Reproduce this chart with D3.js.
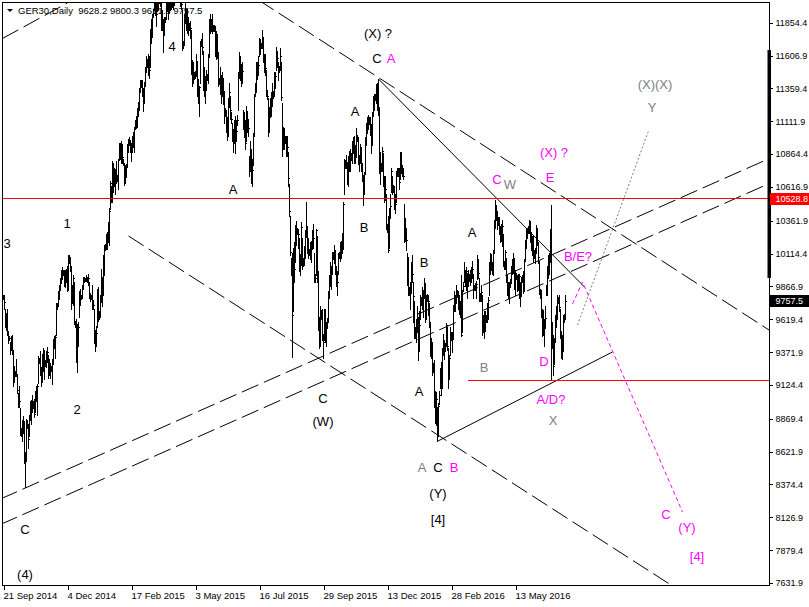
<!DOCTYPE html>
<html>
<head>
<meta charset="utf-8">
<script src="https://cdn.jsdelivr.net/npm/d3@7"></script>
<style>
  html, body { margin: 0; padding: 0; background: #fff; }
  svg { display: block; }
  text { font-family: "Liberation Sans", Arial, sans-serif; }
</style>
</head>
<body>
<svg id="chart" width="809" height="607"></svg>
<script>
// GER30 daily bars, 21 Sep 2014 .. 11 Jul 2016 (Sun-Fri sessions), one row per week
const lows = [
  9770,9700,9560,9540,9500,9440,
  9460,9360,9390,9360,9120,9150,
  9190,9190,9060,8960,8960,8750,
  8740,8700,8760,8540,8355,8550,
  8800,8650,8740,8860,8830,8920,
  8950,8880,8920,9000,8900,9140,
  9290,9200,9120,9150,9230,9170,
  9270,9260,9300,9180,9200,9180,
  9230,9130,9280,9400,9330,9500,
  9700,9720,9770,9840,9890,9920,
  9950,9870,9860,9900,9830,9840,
  10040,9980,9700,9740,9730,9580,
  9560,9300,9219,9420,9640,9730,
  9770,9790,9850,9900,9910,9910,
  9900,9880,9780,9760,9770,9700,
  9700,9440,9382,9420,9560,9610,
  9620,9640,9750,9720,9800,9950,
  10140,10150,10150,10200,10180,10450,
  10500,10500,10580,10620,10560,10650,
  10660,10600,10820,10830,10800,10800,
  10780,10630,10650,10690,10770,10880,
  10930,10880,10810,10880,10920,10880,
  11050,11060,11070,11150,11200,11330,
  11370,11300,11190,11250,11380,11480,
  11520,11460,11440,11520,11700,11750,
  11900,11950,11910,11830,11940,11950,
  12000,11980,11800,11800,11630,11760,
  11860,11890,11940,11880,11930,11950,
  11960,11970,11960,11990,12040,12160,
  12340,12280,12130,11980,11960,11650,
  11660,11690,11850,11800,11780,11760,
  11800,11740,11470,11380,11400,11430,
  11440,11450,11300,11250,11150,11400,
  11680,11620,11350,11300,11250,11350,
  11420,11400,11600,11780,11790,11780,
  11790,11790,11600,11580,11590,11380,
  11390,11320,11250,11300,11240,11100,
  11150,11030,10970,11000,11220,11130,
  11100,10960,10880,10950,10870,10960,
  11080,11200,11440,11420,11380,11400,
  11050,10990,10900,10960,11030,11000,
  10700,10740,10650,10620,10780,11000,
  11300,11330,11430,11460,11600,11620,
  11660,11660,11560,11480,11460,11300,
  11280,11000,11030,11140,11150,11230,
  11290,11300,11360,11500,11520,11420,
  11480,11500,11270,10850,10900,10900,
  10950,10850,10850,10620,10400,10100,
  9950,9338,9680,9900,10050,10180,
  10260,10160,9980,9950,10030,10000,
  10020,10030,10080,10240,10120,10080,
  10100,10070,10050,10150,10160,9900,
  9900,9950,9900,9540,9400,9420,
  9620,9460,9325,9460,9450,9420,
  9560,9600,9780,9870,9850,9960,
  10070,10040,9960,9870,9800,9960,
  10080,10060,10080,10120,10150,10560,
  10760,10760,10640,10620,10740,10740,
  10820,10800,10870,10800,10800,10840,
  10960,10790,10740,10800,10740,10660,
  10480,10560,10720,10930,11020,11050,
  11090,11010,10870,10940,11150,11200,
  11270,11250,11200,11160,10720,10640,
  10740,10740,10620,10500,10520,10300,
  10280,10130,10160,10380,10580,10560,
  10580,10450,10420,10500,10700,
  10700,10600,10680,10720,10700,
  10680,10200,10210,10140,9880,9800,
  9800,9700,9820,9900,9600,9480,
  9480,9450,9520,9314,9380,9620,
  9730,9700,9640,9780,9600,9620,
  9760,9650,9560,9340,9330,9200,
  9220,8960,8840,8820,8700,8740,
  8980,9100,9050,9100,9350,9320,
  9380,9420,9390,9100,9180,9350,
  9460,9370,9470,9680,9680,9740,
  9790,9700,9660,9640,9490,9520,
  9830,9900,9870,9840,9780,9870,
  9910,9880,9900,9930,9780,
  9840,9840,9780,9920,9930,9760,
  9760,9760,9500,9520,9480,9530,
  9600,9600,9620,9800,9960,9990,
  9960,9950,10130,10310,10370,10300,
  10330,10260,10200,10210,10170,10020,
  10000,10000,9900,9800,9780,9740,
  9860,9900,9960,9970,9850,9800,
  9920,9830,9840,9780,9720,9800,
  9900,9820,9830,10060,10160,10230,
  10270,10270,10200,10140,10100,10050,
  10080,10040,10120,10180,10040,9810,
  9780,9640,9490,9500,9420,9560,
  9800,9800,9930,9960,10050,9160,
  9400,9200,9280,9450,9560,9620,
  9740,9680,9480,9330,9320,9380,
  9600,9621.3
];

const highs = [
  9800,9800,9700,9670,9700,9530,
  9490,9450,9490,9500,9390,9270,
  9230,9320,9200,9060,9120,8950,
  8800,8860,8890,8850,8620,8870,
  8860,8820,8900,9000,9010,9050,
  9000,9020,9080,9120,9130,9340,
  9330,9380,9260,9360,9400,9390,
  9310,9380,9410,9350,9320,9290,
  9270,9320,9470,9490,9500,9740,
  9740,9830,9880,9930,9990,10010,
  9990,9990,9990,10000,10020,10100,
  10100,10090,10020,9880,9950,9900,
  9610,9620,9580,9600,9830,9850,
  9800,9880,9940,9940,9930,9950,
  9940,9960,9900,9820,9800,9880,
  9760,9700,9540,9570,9850,9860,
  9680,9800,10000,9940,10100,10180,
  10190,10260,10280,10350,10460,10660,
  10620,10810,10800,10760,10750,10810,
  10710,10830,10950,10950,10960,10940,
  10830,10790,10780,10790,10940,10980,
  10990,10970,10950,11000,11030,11070,
  11120,11150,11210,11260,11360,11420,
  11420,11420,11360,11410,11520,11600,
  11580,11620,11600,11810,11880,11920,
  11960,12220,12170,12040,12100,12060,
  12060,12140,12080,11950,11880,11900,
  11900,12100,12090,12050,12030,12000,
  12000,12020,12140,12110,12180,12390,
  12390,12380,12330,12220,12160,11950,
  11720,11920,12020,11960,11960,11900,
  11850,11870,11800,11570,11560,11480,
  11490,11620,11560,11430,11380,11720,
  11730,11780,11640,11520,11450,11500,
  11470,11620,11880,11920,11880,11920,
  11840,11840,11830,11790,11760,11630,
  11440,11520,11460,11480,11440,11330,
  11210,11200,11140,11290,11400,11300,
  11180,11100,11050,11120,11150,11120,
  11160,11480,11630,11600,11540,11560,
  11200,11180,11120,11230,11190,11130,
  10850,10960,10900,10830,11020,11320,
  11400,11560,11560,11600,11740,11730,
  11700,11800,11750,11620,11620,11500,
  11340,11290,11220,11290,11330,11400,
  11340,11480,11480,11670,11640,11560,
  11530,11660,11560,11250,11070,11060,
  11000,11000,11000,10880,10640,10400,
  10080,10120,10160,10200,10330,10360,
  10310,10300,10230,10110,10350,10230,
  10080,10170,10290,10500,10320,10230,
  10150,10200,10210,10290,10340,10120,
  9960,10300,10250,9980,9640,9720,
  9680,9700,9510,9700,9700,9600,
  9630,9830,9950,10050,10020,10130,
  10130,10180,10140,10020,9980,10120,
  10130,10200,10210,10270,10500,10830,
  10820,10860,10800,10850,10890,10900,
  10870,10960,10990,11000,10930,11060,
  11010,10990,10860,10940,10920,10800,
  10700,10730,10990,11100,11140,11160,
  11140,11140,11080,11180,11300,11320,
  11320,11390,11400,11430,11220,10880,
  10800,10920,10870,10700,10700,10560,
  10340,10400,10460,10560,10760,10700,
  10630,10620,10560,10740,10760,
  10760,10760,10880,10880,10780,
  10760,10490,10380,10300,10120,10090,
  9860,9900,10050,10100,9900,9760,
  9560,9620,9720,9640,9680,9800,
  9790,9860,9840,9930,9890,9800,
  9810,9800,9740,9600,9480,9450,
  9290,9310,9080,9070,8960,8990,
  9080,9250,9300,9400,9510,9460,
  9440,9590,9560,9400,9350,9560,
  9520,9520,9730,9830,9800,9880,
  9840,9830,9800,9760,9950,9840,
  9900,10050,9990,10010,9970,9990,
  9960,9990,10010,10060,9960,
  9880,9890,9910,10100,10070,9930,
  9820,9880,9800,9650,9680,9680,
  9650,9740,9790,10050,10120,10110,
  10040,10140,10370,10520,10480,10430,
  10390,10390,10320,10340,10370,10260,
  10060,10140,10080,9950,9900,9900,
  9920,10020,10070,10120,10080,9990,
  9970,9950,9960,9960,9900,9940,
  9950,9980,10070,10220,10300,10310,
  10320,10370,10360,10280,10250,10250,
  10140,10160,10330,10310,10200,10060,
  9850,9840,9700,9690,9620,9720,
  9880,10020,10100,10120,10300,10480,
  9600,9500,9480,9650,9720,9800,
  9790,9800,9700,9530,9500,9650,
  9660,9800.3
];

const closes = [
  9785,9749,9595,9661,9510,9490,
  9475,9422,9474,9382,9195,9209,
  9215,9210,9087,9005,9006,8788,
  8770,8812,8825,8572,8582,8850,
  8830,8717,8887,8940,8987,8988,
  8980,8902,9068,9083,9114,9326,
  9310,9235,9166,9315,9377,9291,
  9290,9351,9369,9210,9248,9252,
  9250,9306,9456,9472,9483,9732,
  9720,9785,9861,9915,9974,9980,
  9970,9963,9934,9971,9851,10087,
  10070,10014,9799,9799,9927,9594,
  9580,9334,9564,9563,9811,9787,
  9780,9865,9922,9920,9920,9930,
  9920,9928,9806,9790,9785,9765,
  9730,9473,9469,9518,9837,9648,
  9650,9781,9941,9817,10032,10167,
  10170,10242,10257,10299,10435,10649,
  10560,10798,10628,10710,10738,10694,
  10690,10828,10891,10911,10905,10846,
  10800,10664,10752,10766,10919,10963,
  10960,10924,10895,10962,11001,11050,
  11090,11131,11206,11210,11352,11401,
  11400,11356,11280,11390,11504,11550,
  11560,11582,11500,11806,11799,11901,
  11930,12168,11980,11922,12010,12039,
  12030,12040,11896,11843,11865,11868,
  11880,12086,11966,11998,11967,11980,
  11980,11995,12123,12036,12166,12375,
  12360,12338,12227,12039,11998,11688,
  11690,11892,11910,11939,11867,11811,
  11820,11811,11519,11442,11454,11454,
  11460,11568,11327,11350,11367,11709,
  11700,11674,11472,11351,11401,11447,
  11440,11594,11853,11849,11864,11815,
  11810,11815,11625,11771,11624,11413,
  11420,11436,11328,11419,11340,11197,
  11180,11064,11001,11265,11332,11196,
  11130,10984,10979,11101,11040,11040,
  11120,11460,11542,11471,11473,11492,
  11100,11083,10945,11180,11099,11058,
  10780,10890,10677,10747,10997,11316,
  11350,11484,11516,11539,11716,11673,
  11680,11734,11604,11520,11512,11347,
  11300,11056,11198,11211,11257,11308,
  11310,11444,11456,11636,11585,11490,
  11500,11604,11293,10925,10985,10985,
  10970,10940,10915,10682,10432,10124,
  10010,9648,10128,9997,10315,10298,
  10280,10259,10015,10048,10317,10038,
  10050,10108,10271,10303,10210,10123,
  10120,10131,10188,10227,10229,9916,
  9930,10292,9948,9570,9428,9688,
  9650,9483,9450,9660,9509,9553,
  9600,9814,9902,9994,9970,10096,
  10100,10119,9993,9916,9900,10104,
  10100,10165,10147,10238,10491,10795,
  10790,10801,10692,10832,10800,10850,
  10840,10950,10951,10845,10887,10988,
  10980,10815,10833,10907,10782,10708,
  10600,10713,10971,11085,11085,11119,
  11110,11092,10933,11170,11285,11293,
  11300,11382,11261,11190,10789,10752,
  10770,10886,10673,10592,10598,10340,
  10310,10139,10451,10470,10738,10608,
  10600,10497,10488,10727,10730,
  10730,10653,10860,10743,10740,
  10700,10283,10310,10214,9979,9849,
  9830,9825,9985,9960,9795,9545,
  9510,9521,9664,9392,9574,9765,
  9760,9736,9823,9881,9639,9798,
  9780,9757,9581,9434,9393,9286,
  9250,8979,8879,9017,8752,8967,
  9050,9207,9135,9377,9464,9388,
  9420,9573,9416,9167,9331,9513,
  9490,9495,9717,9776,9751,9824,
  9810,9778,9692,9723,9498,9831,
  9870,9990,9933,9983,9893,9950,
  9940,9948,9990,9999,9851,
  9860,9860,9888,10046,9966,9794,
  9790,9822,9563,9624,9530,9622,
  9620,9682,9761,10027,10093,10051,
  10000,10120,10350,10421,10435,10373,
  10360,10294,10260,10299,10321,10039,
  10030,10123,9926,9829,9851,9870,
  9890,9980,10045,10035,9862,9952,
  9940,9890,9891,9943,9796,9917,
  9920,9842,10057,10205,10272,10287,
  10300,10333,10263,10204,10208,10103,
  10110,10121,10288,10217,10089,9834,
  9800,9657,9519,9606,9550,9631,
  9840,9962,10015,10071,10257,9557,
  9480,9268,9447,9612,9680,9776,
  9760,9709,9532,9373,9418,9629,
  9628,9757.5
];

const symbolName = "GER30,Daily";
const lastOpen = 9628.2;

// time axis: bar index of each label and its text
const dateTicks = [0, 64, 128, 192, 256, 320, 384, 448, 512];
const dateLabels = ["21 Sep 2014", "4 Dec 2014", "17 Feb 2015", "3 May 2015", "16 Jul 2015",
                    "29 Sep 2015", "13 Dec 2015", "28 Feb 2016", "13 May 2016"];

// price axis labels
const priceTicks = [11854.4, 11606.9, 11359.4, 11111.9, 10864.4, 10616.9, 10361.9, 10114.4, 9866.9,
                    9619.4, 9371.9, 9124.4, 8869.4, 8621.9, 8374.4, 8126.9, 7879.4, 7631.9];

// horizontal levels
const resistanceLevel = 10528.8;
const supportLevel = 9160;
const supportStart = 465;

// price range marker on the scale
const scaleRange = [11648.8, 9930.5];

// trend lines as [barIndex, price] points
const dashedLines = [
  [[-1, 11735.5], [64, 12003]],
  [[255, 12025.6], [767, 9531.1]],
  [[125, 10247.0], [669, 7609.3]],
  [[-3, 8265.0], [767, 10834.9]],
  [[-3, 8073.0], [767, 10646.5]]
];
const solidLines = [
  [[375, 11430], [581, 9862.7]],
  [[434, 8700], [609, 9372.8]]
];
const magentaPath = [[569, 9734.6], [579, 9900.4], [679, 8167.0]];
const grayPath = [[574, 9576.3], [645, 11038.4]];

// wave labels: [barIndex, price, text]
const blackLabels = [
  [169, 11679, "4"], [230, 10601, "A"], [64, 10345, "1"], [4, 10194, "3"],
  [74, 8943, "2"], [22, 8040, "C"], [22, 7700, "(4)"],
  [375, 11777, "(X) ?"], [374, 11589, "C"], [352, 11189, "A"], [361, 10315, "B"],
  [320, 9026, "C"], [320, 8853, "(W)"], [421, 10051, "B"], [416, 9079, "A"],
  [435, 8506, "C"], [435, 8310, "(Y)"], [435, 8114, "[4]"], [469, 10277, "A"]
];
const magentaLabels = [
  [388, 11589, "A"], [451, 8506, "B"], [494, 10677, "C"], [547, 10692, "E"],
  [551, 10880, "(X) ?"], [575, 10096, "B/E?"], [541, 9305, "D"], [548, 9019, "A/D?"],
  [663, 8152, "C"], [684, 8054, "(Y)"], [694, 7835, "[4]"]
];
const grayLabels = [
  [419, 8506, "A"], [481, 9260, "B"], [507, 10639, "W"], [550, 8860, "X"],
  [652, 11393, "(X)(X)"], [649, 11219, "Y"]
];

// ---------------------------------------------------------------------------
const W = 809, H = 607;
const plot = { left: 2.5, top: 2.5, right: 769.5, bottom: 585.5 };
const MAGENTA = "#ff00ff", GRAY = "#808080", RED = "#ff0000";

const x = d3.scaleLinear().domain([0, 766]).range([3, 769]);
const y = d3.scaleLinear().domain([7631.9, 11854.4]).range([583, 22.7]);

const svg = d3.select("#chart");
svg.append("rect").attr("width", W).attr("height", H).attr("fill", "#fff");

svg.append("defs").append("clipPath").attr("id", "plotClip")
  .append("rect").attr("x", 3).attr("y", 3).attr("width", 766).attr("height", 582);

const area = svg.append("g").attr("clip-path", "url(#plotClip)");

// header (drawn first, bars cover it)
const n = Math.min(lows.length, highs.length, closes.length);
const last = n - 1;
area.append("path").attr("d", "M7,9L13,9L10,12Z").attr("fill", "#000");
area.append("text").attr("x", 18).attr("y", 14).attr("font-size", 9.5).attr("fill", "#000")
  .style("white-space", "pre")
  .text(`${symbolName}  ${lastOpen.toFixed(1)} ${highs[last].toFixed(1)} ${lows[last].toFixed(1)} ${closes[last].toFixed(1)}`);

const line = d3.line().x(d => x(d[0]) + 0.5).y(d => y(d[1]));

area.selectAll("path.dash").data(dashedLines).join("path")
  .attr("class", "dash").attr("d", line)
  .attr("fill", "none").attr("stroke", "#000").attr("stroke-width", 1)
  .attr("stroke-dasharray", "18,6");

area.selectAll("path.solid").data(solidLines).join("path")
  .attr("class", "solid").attr("d", line)
  .attr("fill", "none").attr("stroke", "#000").attr("stroke-width", 1);

area.append("path").attr("d", line(magentaPath))
  .attr("fill", "none").attr("stroke", MAGENTA).attr("stroke-width", 1)
  .attr("stroke-dasharray", "4,3");
area.append("path").attr("d", line(grayPath))
  .attr("fill", "none").attr("stroke", GRAY).attr("stroke-width", 1)
  .attr("stroke-dasharray", "2,2");

// OHLC bars: high-low stroke with a close tick
let barPath = "";
for (let i = 0; i < n; i++) {
  const bx = Math.round(x(i)) + 0.5;
  const yh = Math.round(y(highs[i]));
  const yl = Math.round(y(lows[i])) + 1;
  const yc = Math.round(y(closes[i])) + 0.5;
  barPath += `M${bx},${yh}V${yl}M${bx},${yc}H${bx + 1.5}`;
}
area.append("path").attr("d", barPath).attr("fill", "none")
  .attr("stroke", "#000").attr("stroke-width", 1).attr("shape-rendering", "crispEdges");

// horizontal levels
const levels = area.append("g").attr("shape-rendering", "crispEdges");
levels.append("line")
  .attr("x1", 3).attr("x2", 769)
  .attr("y1", Math.floor(y(resistanceLevel)) + 0.5).attr("y2", Math.floor(y(resistanceLevel)) + 0.5)
  .attr("stroke", RED).attr("stroke-width", 1);
levels.append("line")
  .attr("x1", Math.round(x(supportStart))).attr("x2", 769)
  .attr("y1", Math.floor(y(supportLevel)) + 0.5).attr("y2", Math.floor(y(supportLevel)) + 0.5)
  .attr("stroke", RED).attr("stroke-width", 1);

// wave labels
function drawLabels(data, color) {
  area.append("g").selectAll("text").data(data).join("text")
    .attr("x", d => x(d[0])).attr("y", d => y(d[1]))
    .attr("dy", "0.36em").attr("text-anchor", "middle")
    .attr("font-size", 13).attr("fill", color)
    .text(d => d[2]);
}
drawLabels(blackLabels, "#000");
drawLabels(magentaLabels, MAGENTA);
drawLabels(grayLabels, GRAY);

// frame
svg.append("rect").attr("x", plot.left).attr("y", plot.top)
  .attr("width", plot.right - plot.left).attr("height", plot.bottom - plot.top)
  .attr("fill", "none").attr("stroke", "#000").attr("stroke-width", 1);

// range marker on the right edge
svg.append("rect").attr("x", 767.5).attr("width", 3.5)
  .attr("y", y(scaleRange[0])).attr("height", y(scaleRange[1]) - y(scaleRange[0]))
  .attr("fill", "#000");

// price axis
const yAxis = d3.axisRight(y).tickValues(priceTicks).tickFormat(d => d.toFixed(1))
  .tickSize(3).tickPadding(3);
const gy = svg.append("g").attr("transform", `translate(${plot.right},0)`).call(yAxis);
gy.select(".domain").remove();
gy.selectAll(".tick line").attr("stroke", "#000").attr("shape-rendering", "crispEdges");
gy.selectAll(".tick text").attr("font-size", 9).attr("fill", "#000")
  .attr("font-family", "Liberation Sans, Arial, sans-serif");

// price tags
function priceTag(value, bg) {
  const cy = y(value);
  svg.append("rect").attr("x", 770).attr("y", Math.round(cy) - 6).attr("width", 39).attr("height", 12)
    .attr("fill", bg);
  svg.append("text").attr("x", 775.5).attr("y", cy).attr("dy", "0.35em")
    .attr("font-size", 9).attr("fill", "#fff").text(value.toFixed(1));
}
priceTag(resistanceLevel, RED);
priceTag(closes[last], "#000");

// time axis
const xAxis = d3.axisBottom(x).tickValues(dateTicks).tickFormat((d, i) => dateLabels[i])
  .tickSize(4).tickPadding(3);
const gx = svg.append("g").attr("transform", `translate(0.5,${plot.bottom})`).call(xAxis);
gx.select(".domain").remove();
gx.selectAll(".tick line").attr("stroke", "#000").attr("shape-rendering", "crispEdges");
gx.selectAll(".tick text").attr("font-size", 9.5).attr("fill", "#000")
  .attr("text-anchor", "start").attr("x", -0.5)
  .attr("font-family", "Liberation Sans, Arial, sans-serif");
</script>
</body>
</html>
